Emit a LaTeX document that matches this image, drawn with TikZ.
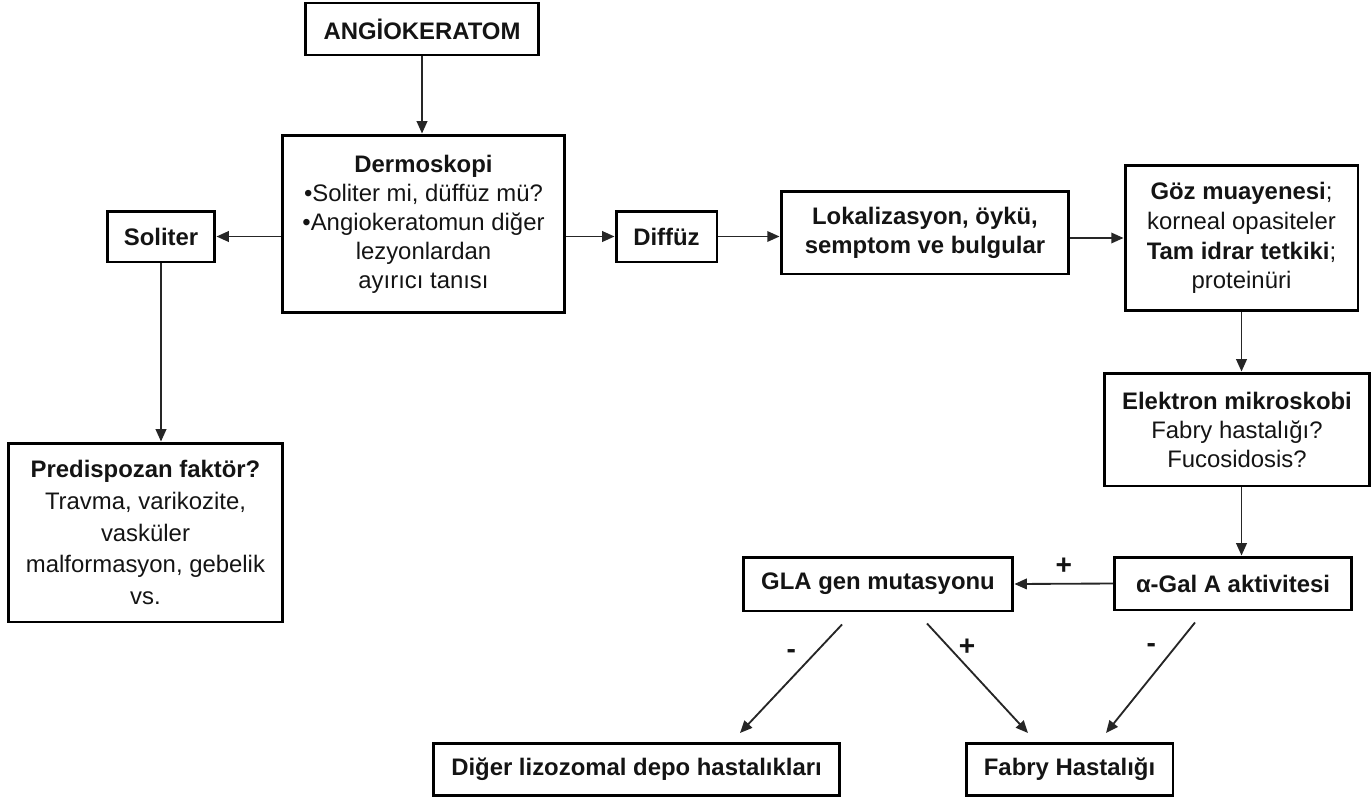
\documentclass[tikz,border=0pt]{standalone}
\usepackage{fontspec}
\setmainfont{Liberation Sans}
\usetikzlibrary{arrows.meta,calc,positioning}

\begin{document}
\begin{tikzpicture}[x=0.02cm,y=-0.02cm,
  every node/.style={font=\fontsize{13.6}{16.5}\selectfont,text=black!92},
  box/.style={draw=black,line width=1.7pt,align=center,inner sep=0pt},
  arr/.style={-{Triangle[length=7pt,width=6pt]},line width=1.05pt,black!85},
  sign/.style={font=\fontsize{16}{18}\selectfont\bfseries,inner sep=0pt}]
  \path[use as bounding box] (0,0) rectangle (1371,801);
  % Top row: entry box and dermoscopy.
  \node[box,minimum width=4.68cm,minimum height=1.04cm] (ang) at (422,29)
    {\textbf{ANGİOKERATOM}};
  \node[box,minimum width=5.66cm,minimum height=3.56cm] (derm) at (423.5,224)
    {\textbf{Dermoskopi}\\•Soliter mi, düffüz mü?\\•Angiokeratomun diğer\\lezyonlardan\\ayırıcı tanısı};
  \draw[arr] (ang.south) -- (ang.south |- derm.north);

  % Left branch: solitary lesion.
  \node[box,minimum width=2.16cm,minimum height=1.02cm] (sol) at (161,236.5)
    {\textbf{Soliter}};
  \node[box,minimum width=5.5cm,minimum height=3.58cm,
    font=\fontsize{13.6}{18}\selectfont] (pred) at (145.5,532.5)
    {\textbf{Predispozan faktör?}\\Travma, varikozite,\\vasküler\\malformasyon, gebelik\\vs.};
  \draw[arr] (derm.west |- sol.east) -- (sol.east);
  \draw[arr] (sol.south) -- (sol.south |- pred.north);

  % Right branch: diffuse lesions.
  \node[box,minimum width=2.02cm,minimum height=1.02cm] (dif) at (666.5,236.5)
    {\textbf{Diffüz}};
  \node[box,minimum width=5.76cm,minimum height=1.66cm] (lok) at (925,232.5)
    {\textbf{Lokalizasyon, öykü,}\\\textbf{semptom ve bulgular}};
  \node[box,minimum width=4.66cm,minimum height=2.92cm,
    font=\fontsize{13.6}{17}\selectfont] (goz) at (1241.5,238)
    {\textbf{Göz muayenesi};\\korneal opasiteler\\\textbf{Tam idrar tetkiki};\\proteinüri};
  \node[box,minimum width=5.3cm,minimum height=2.26cm] (elek) at (1237,429.5)
    {\textbf{Elektron mikroskobi}\\Fabry hastalığı?\\Fucosidosis?};
  \node[box,minimum width=4.74cm,minimum height=1.06cm] (gal) at (1233,583.5)
    {\textbf{α-Gal A aktivitesi}};
  \node[box,minimum width=5.4cm,minimum height=1.08cm] (gla) at (878,584)
    {\textbf{GLA gen mutasyonu}};
  \draw[arr] (derm.east |- dif.west) -- (dif.west);
  \draw[arr] (dif.east) -- (lok.west |- dif.east);
  \draw[arr] (lok.east |- goz.west) -- (goz.west);
  \draw[arr] (goz.south) -- (goz.south |- elek.north);
  \draw[arr] (goz.south |- elek.south) -- (goz.south |- gal.north);
  \draw[arr] (gal.west) -- (gla.east) node[sign,midway,above=5pt] {+};

  % Bottom row: outcomes.
  \node[box,minimum width=8.14cm,minimum height=1.04cm] (diger) at (636.5,769)
    {\textbf{Diğer lizozomal depo hastalıkları}};
  \node[box,minimum width=4.14cm,minimum height=1.04cm] (fabry) at (1069.5,769)
    {\textbf{Fabry Hastalığı}};
  \coordinate (d1s) at ([shift={(-36,12)}]gla.south);
  \coordinate (d1e) at (740,733);
  \coordinate (d2s) at ([shift={(49,11)}]gla.south);
  \coordinate (d2e) at (1028,733);
  \coordinate (d3s) at ([shift={(-38,11)}]gal.south);
  \coordinate (d3e) at (1106,733);
  \draw[arr] (d1s) -- (d1e) node[sign,pos=.27,left=10pt] {-};
  \draw[arr] (d2s) -- (d2e) node[sign,pos=.22,right=5pt] {+};
  \draw[arr] (d3s) -- (d3e) node[sign,pos=.23,left=10pt] {-};
\end{tikzpicture}
\end{document}
